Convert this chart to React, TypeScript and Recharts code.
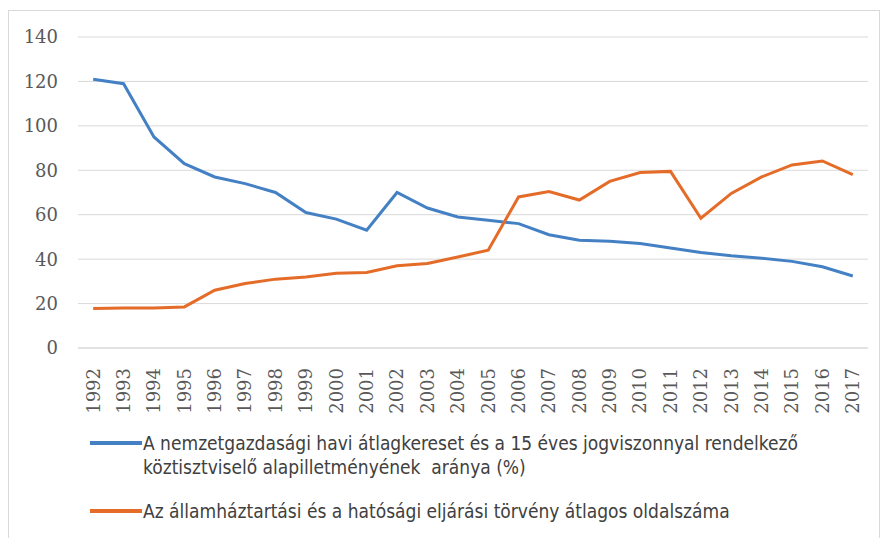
import { LineChart, Line, XAxis, YAxis, CartesianGrid, Legend } from "recharts";

const YEARS = [
  "1992", "1993", "1994", "1995", "1996", "1997", "1998", "1999", "2000",
  "2001", "2002", "2003", "2004", "2005", "2006", "2007", "2008", "2009",
  "2010", "2011", "2012", "2013", "2014", "2015", "2016", "2017",
];

// arány (%)
const RATIO = [
  121, 119, 95, 83, 77, 74, 70, 61, 58, 53, 70, 63, 59, 57.5, 56, 51, 48.5,
  48, 47, 45, 43, 41.5, 40.4, 39, 36.6, 32.4,
];

// átlagos oldalszám
const PAGES = [
  17.8, 18, 18, 18.5, 26, 29, 31, 32, 33.6, 34, 37, 38, 41, 44, 68, 70.4,
  66.6, 75, 79, 79.5, 58.4, 69.6, 77, 82.4, 84.2, 78,
];

const Y_TICKS = [0, 20, 40, 60, 80, 100, 120, 140];

const SERIES_NAMES = [
  "A nemzetgazdasági havi átlagkereset és a 15 éves jogviszonnyal rendelkező köztisztviselő alapilletményének aránya (%)",
  "Az államháztartási és a hatósági eljárási törvény átlagos oldalszáma",
];

const BLUE = "#4480c4";
const ORANGE = "#e46c28";
const AXIS_FONT = "'DejaVu Serif', serif";

const data = YEARS.map((year, i) => ({
  year,
  ratio: RATIO[i],
  pages: PAGES[i],
}));

const YearTick = ({ x, y, payload }: any) => (
  <text
    transform={`translate(${x},${y + 12}) rotate(-90)`}
    textAnchor="end"
    dy="0.35em"
    fontFamily={AXIS_FONT}
    fontSize={18}
    fill="#595959"
  >
    {payload.value}
  </text>
);

const LegendBox = () => {
  const items = [
    { color: BLUE, lines: ["A nemzetgazdasági havi átlagkereset és a 15 éves jogviszonnyal rendelkező", "köztisztviselő alapilletményének  aránya (%)"] },
    { color: ORANGE, lines: [SERIES_NAMES[1]] },
  ];
  return (
    <div style={{ paddingLeft: 81, paddingTop: 3 }}>
      {items.map((it, i) => (
        <div
          key={i}
          style={{
            display: "flex",
            alignItems: "flex-start",
            marginTop: i === 0 ? 0 : 20,
            fontFamily: "'Liberation Sans Narrow', 'DejaVu Sans Condensed', sans-serif",
            fontSize: 19,
            lineHeight: "24px",
            color: "#404040",
          }}
        >
          <svg width={53} height={24} style={{ flexShrink: 0 }}>
            <line x1={0} x2={52} y1={12} y2={12} stroke={it.color} strokeWidth={4} />
          </svg>
          <div>
            {it.lines.map((l, j) => (
              <div key={j} style={{ whiteSpace: "pre" }}>{l}</div>
            ))}
          </div>
        </div>
      ))}
    </div>
  );
};

export default function App() {
  return (
    <div
      style={{
        marginTop: 2,
        width: 870,
        height: 527,
        border: "1px solid #d9d9d9",
        borderBottom: "none",
        background: "#fff",
      }}
    >
      <LineChart
        width={870}
        height={527}
        data={data}
        margin={{ top: 26, right: 11, left: 0, bottom: 10 }}
      >
        <CartesianGrid vertical={false} stroke="#d9d9d9" />
        <XAxis
          dataKey="year"
          scale="band"
          interval={0}
          height={80}
          tick={<YearTick />}
          tickLine={false}
          axisLine={{ stroke: "#d9d9d9" }}
        />
        <YAxis
          width={69}
          domain={[0, 140]}
          ticks={Y_TICKS}
          tickLine={false}
          axisLine={false}
          tickMargin={14}
          tick={{ fontFamily: AXIS_FONT, fontSize: 18, fill: "#595959" }}
        />
        <Legend
          verticalAlign="bottom"
          align="left"
          height={100}
          content={<LegendBox />}
        />
        <Line
          dataKey="ratio"
          name={SERIES_NAMES[0]}
          stroke={BLUE}
          strokeWidth={3}
          dot={false}
          isAnimationActive={false}
        />
        <Line
          dataKey="pages"
          name={SERIES_NAMES[1]}
          stroke={ORANGE}
          strokeWidth={3}
          dot={false}
          isAnimationActive={false}
        />
      </LineChart>
    </div>
  );
}
